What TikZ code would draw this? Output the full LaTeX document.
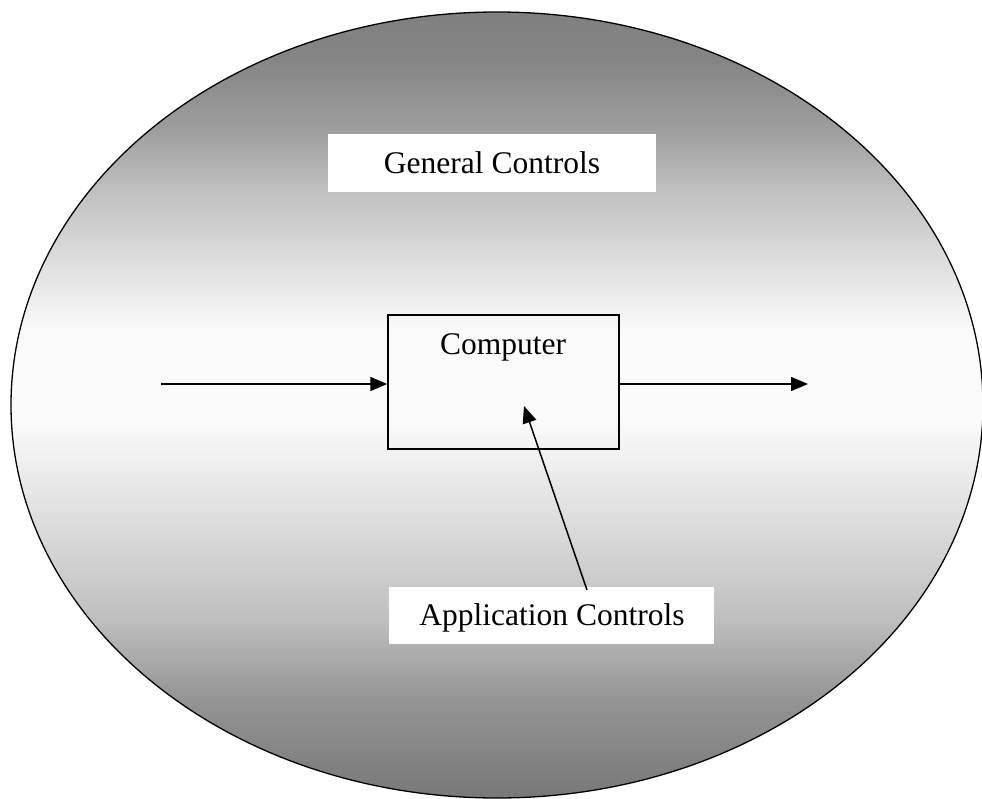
\documentclass[tikz,border=0pt]{standalone}
\usepackage{fontspec}
\setmainfont{Liberation Serif}
\usetikzlibrary{arrows.meta}
\pgfdeclareverticalshading{ellshade}{100bp}{%
  color(0bp)=(black!53); color(25bp)=(black!53); color(31.23bp)=(black!42);
  color(36.51bp)=(black!25); color(42.87bp)=(black!13); color(46.06bp)=(black!7);
  color(49.05bp)=(black!2); color(54.77bp)=(black!2); color(59.86bp)=(black!15);
  color(63.68bp)=(black!25); color(67.49bp)=(black!38); color(71.95bp)=(black!48);
  color(75bp)=(black!50); color(100bp)=(black!50)}
\begin{document}
\begin{tikzpicture}[x=1pt,y=-1pt,
  lbl/.style={font=\fontsize{31.5}{36}\selectfont, inner sep=0pt},
  whitebox/.style={fill=white, draw=none},
  conn/.style={line width=1.5pt, -{Triangle[length=17pt,width=14pt]}}]
\useasboundingbox (0,0) rectangle (982,798);
\shade[shading=ellshade, draw=black, line width=1.3pt]
  (497,405) ellipse [x radius=486, y radius=393];
% general controls
\node[whitebox, minimum width=328, minimum height=58, inner sep=0pt] (gen) at (492,163) {};
\node[lbl] at (gen.center) {General Controls};
% computer box
\node[draw=black, line width=1.4pt, fill=none, minimum width=231, minimum height=134, inner sep=0pt] (comp) at (503.5,382) {};
\node[lbl] (comptxt) at (503,347) {Computer};
% application controls
\node[whitebox, minimum width=325, minimum height=57, inner sep=0pt] (app) at (551.5,615.5) {};
\node[lbl] at (552,618) {Application Controls};
% arrows
\coordinate (inS) at (161,384);
\coordinate (outE) at (808,384);
\coordinate (appTip) at (524,406);
\coordinate (appTail) at (587,590);
\draw[conn] (inS) -- (comp.west |- inS);
\draw[conn] (comp.east |- outE) -- (outE);
\draw[conn] (appTail) -- (appTip);
\end{tikzpicture}
\end{document}
